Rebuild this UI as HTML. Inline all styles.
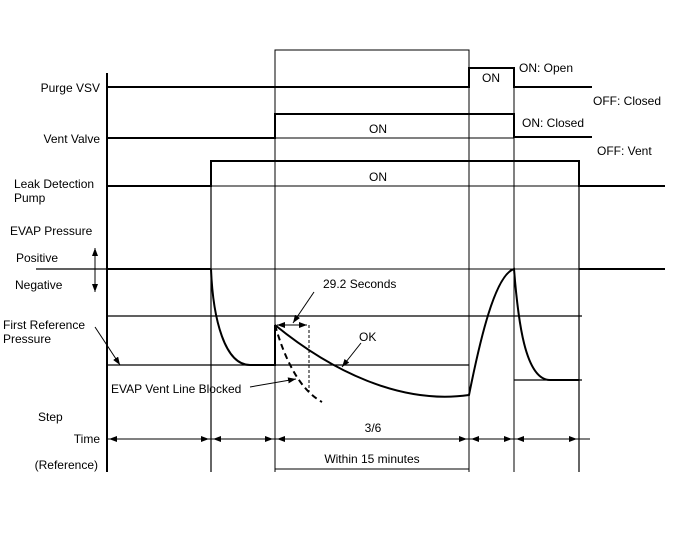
<!DOCTYPE html>
<html><head><meta charset="utf-8"><style>
html,body{margin:0;padding:0;background:#fff;width:688px;height:560px;overflow:hidden}
svg text{font-family:"Liberation Sans",Arial,sans-serif;font-size:12px;fill:#000}
</style></head><body>
<svg width="688" height="560" viewBox="0 0 688 560" xmlns="http://www.w3.org/2000/svg">
<defs>
<marker id="a" markerWidth="8" markerHeight="6" refX="8" refY="3" orient="auto" markerUnits="userSpaceOnUse"><path d="M0,0 L8,3 L0,6 z" fill="#000"/></marker>
</defs>
<g fill="none" stroke="#000">
<!-- verticals -->
<line x1="107" y1="73" x2="107" y2="472" stroke-width="2"/>
<line x1="211" y1="160" x2="211" y2="472" stroke-width="1.2"/>
<polyline points="275,472 275,50 469,50 469,472" stroke-width="1"/>
<line x1="275" y1="469" x2="469" y2="469" stroke-width="1"/>
<line x1="514" y1="68" x2="514" y2="472" stroke-width="1"/>
<line x1="579" y1="161" x2="579" y2="472" stroke-width="1.2"/>
<!-- Purge VSV -->
<polyline points="107,87 469,87 469,68 514,68 514,87 592,87" stroke-width="2"/>
<!-- Vent valve -->
<polyline points="107,138 275,138 275,114 514,114 514,137 592,137" stroke-width="2"/>
<line x1="275" y1="138" x2="514" y2="138" stroke-width="1"/>
<!-- LDP -->
<polyline points="107,186 211,186 211,161 579,161 579,186 665,186" stroke-width="2"/>
<line x1="211" y1="186" x2="579" y2="186" stroke-width="1"/>
<!-- pressure lines -->
<line x1="36" y1="269" x2="211" y2="269" stroke-width="1.2"/>
<line x1="107" y1="269" x2="211" y2="269" stroke-width="2"/>
<line x1="211" y1="269" x2="579" y2="269" stroke-width="1"/>
<line x1="579" y1="269" x2="665" y2="269" stroke-width="2"/>
<line x1="107" y1="316" x2="582" y2="316" stroke-width="1.2"/>
<line x1="107" y1="365" x2="469" y2="365" stroke-width="1.2"/>
<line x1="514" y1="380" x2="582" y2="380" stroke-width="1.2"/>
<!-- curves -->
<path d="M211,269 C213,320 225,365 250,365 L275,365 L275,325" stroke-width="2"/>
<path d="M275,325 C330,370 400,405 469,395 C480,340 495,275 514,269 C518,320 525,380 550,380 L579,380" stroke-width="2"/>
<path d="M275,325 C285,360 300,390 322,402" stroke-width="2" stroke-dasharray="6,4"/>
<line x1="309" y1="325" x2="309" y2="392" stroke-width="1" stroke-dasharray="3,2"/>
<line x1="288" y1="325" x2="277" y2="325" stroke-width="1" marker-end="url(#a)"/>
<line x1="288" y1="325" x2="307" y2="325" stroke-width="1" marker-end="url(#a)"/>
<line x1="314" y1="292" x2="293" y2="323" stroke-width="1" marker-end="url(#a)"/>
<line x1="361" y1="343" x2="342" y2="367" stroke-width="1" marker-end="url(#a)"/>
<line x1="250" y1="387" x2="296" y2="379" stroke-width="1" marker-end="url(#a)"/>
<line x1="95" y1="327" x2="120" y2="365" stroke-width="1" marker-end="url(#a)"/>
<!-- up/down arrow -->
<line x1="95" y1="268" x2="95" y2="248" stroke-width="1" marker-end="url(#a)"/>
<line x1="95" y1="268" x2="95" y2="292" stroke-width="1" marker-end="url(#a)"/>
<!-- time arrows -->
<line x1="107" y1="439" x2="590" y2="439" stroke-width="1"/>
<g stroke-width="1">
<line x1="150" y1="439" x2="109" y2="439" marker-end="url(#a)"/><line x1="150" y1="439" x2="209" y2="439" marker-end="url(#a)"/>
<line x1="243" y1="439" x2="213" y2="439" marker-end="url(#a)"/><line x1="243" y1="439" x2="273" y2="439" marker-end="url(#a)"/>
<line x1="370" y1="439" x2="277" y2="439" marker-end="url(#a)"/><line x1="370" y1="439" x2="467" y2="439" marker-end="url(#a)"/>
<line x1="491" y1="439" x2="471" y2="439" marker-end="url(#a)"/><line x1="491" y1="439" x2="512" y2="439" marker-end="url(#a)"/>
<line x1="546" y1="439" x2="516" y2="439" marker-end="url(#a)"/><line x1="546" y1="439" x2="577" y2="439" marker-end="url(#a)"/>
</g>
</g>
<text x="100" y="92" text-anchor="end">Purge VSV</text>
<text x="100" y="143" text-anchor="end">Vent Valve</text>
<text x="14" y="188">Leak Detection</text>
<text x="14" y="202">Pump</text>
<text x="10" y="235">EVAP Pressure</text>
<text x="16" y="262">Positive</text>
<text x="15" y="289">Negative</text>
<text x="3" y="329">First Reference</text>
<text x="3" y="343">Pressure</text>
<text x="111" y="393">EVAP Vent Line Blocked</text>
<text x="38" y="421">Step</text>
<text x="100" y="443" text-anchor="end">Time</text>
<text x="98" y="469" text-anchor="end">(Reference)</text>
<text x="323" y="288">29.2 Seconds</text>
<text x="359" y="341">OK</text>
<text x="378" y="133" text-anchor="middle">ON</text>
<text x="378" y="181" text-anchor="middle">ON</text>
<text x="491" y="82" text-anchor="middle">ON</text>
<text x="519" y="72">ON: Open</text>
<text x="593" y="105">OFF: Closed</text>
<text x="522" y="127">ON: Closed</text>
<text x="597" y="155">OFF: Vent</text>
<text x="373" y="432" text-anchor="middle">3/6</text>
<text x="372" y="463" text-anchor="middle">Within 15 minutes</text>
</svg>
</body></html>
